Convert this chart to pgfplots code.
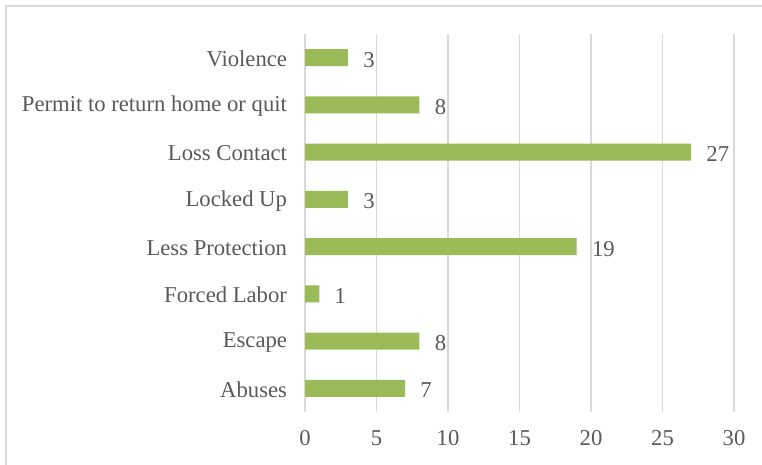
\documentclass[border=0pt]{standalone}
\usepackage{fontspec}
\setmainfont{Liberation Serif}
\usepackage{pgfplots}
\pgfplotsset{compat=1.18}
\definecolor{barg}{HTML}{9BBB59}
\definecolor{txt}{HTML}{595959}
\definecolor{grd}{HTML}{D9D9D9}
\begin{document}
\begin{tikzpicture}[x=1pt,y=1pt]
\useasboundingbox (0,0) rectangle (571.5,348);
\draw[grd, line width=1.1pt] (4.5,-2) -- (4.5,343.5) -- (573,343.5);
\begin{axis}[at={(228.75pt,39pt)}, anchor=south west, scale only axis,
 width=321.75pt, height=283.5pt,
 xbar, xmin=0, xmax=30, ymin=-0.5, ymax=7.5, bar width=0.36,
 xtick={0,5,...,30}, ytick={0,...,7},
 yticklabels={Abuses,Escape,Forced Labor,Less Protection,Locked Up,Loss Contact,Permit to return home or quit,Violence},
 axis line style={draw=none}, major tick length=0pt,
 xmajorgrids, ymajorgrids=false, grid style={grd, line width=1pt},
 tick label style={font=\fontsize{17}{20}\selectfont, text=txt},
 yticklabel style={xshift=-10pt, yshift=-1pt},
 xticklabel style={yshift=-10.5pt},
 /pgf/number format/assume math mode=true,
 nodes near coords,
 nodes near coords style={font=\fontsize{17}{20}\selectfont, text=txt, xshift=8pt, yshift=-1.5pt},
 clip=false]
\addplot[fill=barg, draw=none] coordinates {(7,0) (8,1) (1,2) (19,3) (3,4) (27,5) (8,6) (3,7)};
\end{axis}
\end{tikzpicture}
\end{document}
